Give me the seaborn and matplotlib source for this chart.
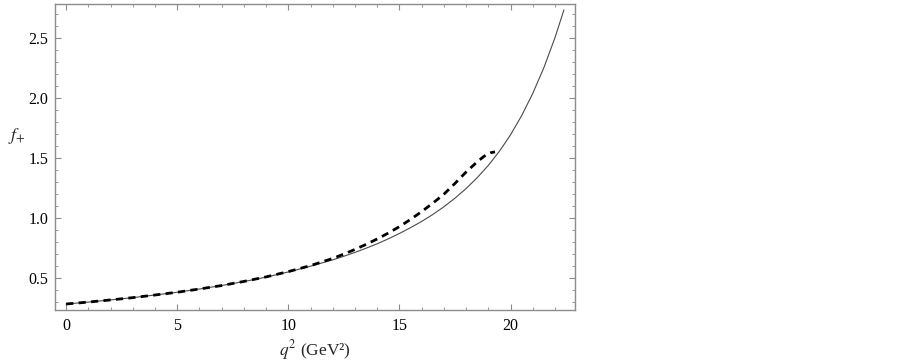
import numpy as np
import pandas as pd
import matplotlib
matplotlib.use("Agg")
import matplotlib.pyplot as plt
from matplotlib.ticker import MultipleLocator
import seaborn as sns

# Solid curve
q2_solid = [0, 1, 2, 3, 4, 5, 6, 7, 8, 9, 10, 11, 12, 12.5, 13, 13.5, 14, 14.5, 15, 15.5, 16, 16.5,
            17, 17.5, 18, 18.5, 19, 19.5, 20, 20.5, 21, 21.5, 22, 22.4]
f_solid = [0.280, 0.296, 0.314, 0.333, 0.355, 0.378, 0.405, 0.434, 0.467, 0.504, 0.547, 0.595, 0.648,
           0.678, 0.710, 0.745, 0.782, 0.823, 0.868, 0.916, 0.968, 1.026, 1.090, 1.162, 1.242, 1.333,
           1.435, 1.553, 1.690, 1.850, 2.035, 2.250, 2.500, 2.730]

# Dashed curve
q2_dash = [0, 1, 2, 3, 4, 5, 6, 7, 8, 9, 10, 11, 12, 12.5, 13, 13.5, 14, 14.5, 15, 15.5, 16, 16.5,
           17, 17.5, 18, 18.5, 18.8, 19.1, 19.3]
f_dash = [0.280, 0.296, 0.314, 0.333, 0.355, 0.378, 0.405, 0.434, 0.468, 0.506, 0.550, 0.600, 0.660,
          0.696, 0.735, 0.777, 0.822, 0.871, 0.925, 0.985, 1.050, 1.120, 1.195, 1.285, 1.380, 1.465,
          1.510, 1.540, 1.548]

x_ticks = [0, 5, 10, 15, 20]
y_ticks = [0.5, 1.0, 1.5, 2.0, 2.5]

sns.set_style("ticks")
plt.rcParams["font.family"] = ["Liberation Serif", "DejaVu Serif"]
plt.rcParams["mathtext.fontset"] = "stix"

fig = plt.figure(figsize=(9.03, 3.63), dpi=100)
ax = fig.add_axes([55 / 903, 1 - 310 / 363, 520 / 903, 306 / 363])

df_s = pd.DataFrame({"q2": q2_solid, "f": f_solid})
df_d = pd.DataFrame({"q2": q2_dash, "f": f_dash})
sns.lineplot(data=df_s, x="q2", y="f", ax=ax, color="#4a4a4a", lw=0.8, sort=True)
sns.lineplot(data=df_d, x="q2", y="f", ax=ax, color="black", lw=2.0, sort=True,
             linestyle=(0, (2.6, 1.9)))

ax.set_xlim(-0.5, 22.9)
ax.set_ylim(0.23, 2.78)
ax.set_xticks(x_ticks)
ax.set_xticklabels([str(t) for t in x_ticks])
ax.set_yticks(y_ticks)
ax.set_yticklabels([f"{t:.1f}" for t in y_ticks])
ax.xaxis.set_minor_locator(MultipleLocator(1))
ax.yaxis.set_minor_locator(MultipleLocator(0.1))

frame_c = "#8c8c8c"
for s in ax.spines.values():
    s.set_color(frame_c)
    s.set_linewidth(1.0)
    s.set_visible(True)

ax.tick_params(which="both", direction="in", top=True, right=True, colors=frame_c,
               labelcolor="black", labelsize=11.5)
ax.tick_params(which="major", length=4, width=0.8)
ax.tick_params(which="minor", length=2.2, width=0.6)
ax.tick_params(axis="x", pad=6)
ax.tick_params(axis="y", pad=5)

ax.set_xlabel(r"$q^2$ (GeV²)", fontsize=12.5, labelpad=3)
ax.set_ylabel(r"$f_{+}$", fontsize=13, rotation=0, va="center", ha="center")
ax.yaxis.set_label_coords(-0.073, 0.57)

fig.savefig("out.png", dpi=100)
